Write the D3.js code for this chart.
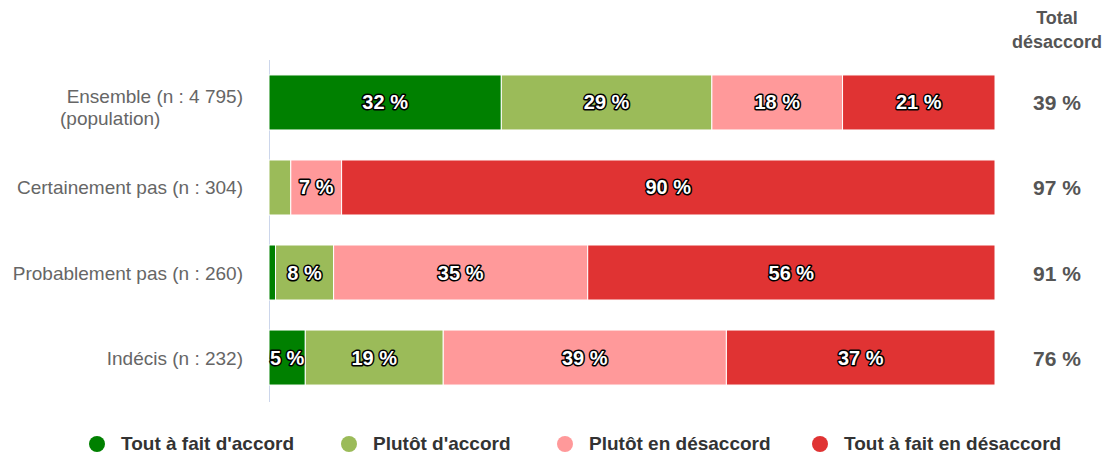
<!DOCTYPE html>
<html>
<head>
<meta charset="utf-8">
<script src="https://cdn.jsdelivr.net/npm/d3@7"></script>
<style>
  body { margin: 0; background: #fff; font-family: "Liberation Sans", Arial, sans-serif; }
</style>
</head>
<body>
<div id="chart"></div>
<script>
// data
var categories = ["Ensemble (n : 4 795)", "Certainement pas (n : 304)", "Probablement pas (n : 260)", "Indécis (n : 232)"];
var series = ["Tout à fait d'accord", "Plutôt d'accord", "Plutôt en désaccord", "Tout à fait en désaccord"];
var colors = ["#008000", "#9bbb59", "#ff999a", "#e03333"];
var toutAccord = [32, 0, 0.9, 5];
var plutotAccord = [29, 3, 8, 19];
var plutotDesaccord = [18, 7, 35, 39];
var toutDesaccord = [21, 90, 56.1, 37];
var totalDesaccord = ["39 %", "97 %", "91 %", "76 %"];

var chart_width = 1106;
var chart_height = 454;

var svg = d3.select("#chart").append("svg")
  .attr("width", chart_width)
  .attr("height", chart_height);

var x = d3.scaleLinear().domain([0, 100]).range([269, 995]);
var y = d3.scaleBand().domain(categories).range([60, 400]).paddingInner(0.353).paddingOuter(0.176);

var rows = categories.map(function(c, i) {
  return {cat: c, values: [toutAccord[i], plutotAccord[i], plutotDesaccord[i], toutDesaccord[i]]};
});

// axis line
svg.append("line")
  .attr("x1", 269.5).attr("x2", 269.5)
  .attr("y1", 60).attr("y2", 402)
  .attr("stroke", "#ccd6eb");

// bars
rows.forEach(function(r) {
  var acc = 0;
  r.values.forEach(function(v, j) {
    if (v <= 0) return;
    var x0 = x(acc), x1 = x(acc + v);
    acc += v;
    svg.append("rect")
      .attr("x", x0).attr("y", y(r.cat))
      .attr("width", x1 - x0).attr("height", y.bandwidth())
      .attr("fill", colors[j])
      .attr("stroke", "#fff").attr("stroke-width", 1);
    if (v >= 5) {
      svg.append("text")
        .attr("x", (x0 + x1) / 2)
        .attr("y", y(r.cat) + y.bandwidth() / 2 + 7)
        .attr("text-anchor", "middle")
        .attr("font-size", 20).attr("font-weight", "bold")
        .attr("fill", "#fff").attr("stroke", "#000").attr("stroke-width", 3)
        .attr("stroke-linejoin", "round").attr("paint-order", "stroke")
        .text(Math.round(v) + " %");
    }
  });
});

// category labels
categories.forEach(function(c, i) {
  svg.append("text")
    .attr("x", 243)
    .attr("y", y(c) + y.bandwidth() / 2 + (i === 0 ? 1 : 7))
    .attr("text-anchor", "end")
    .attr("font-size", 19).attr("fill", "#666")
    .text(c);
});
svg.append("text")
  .attr("x", 60).attr("y", y(categories[0]) + y.bandwidth() / 2 + 23)
  .attr("font-size", 19).attr("fill", "#666")
  .text("(population)");

// total column
svg.append("text").attr("x", 1057).attr("y", 24).attr("text-anchor", "middle")
  .attr("font-size", 18).attr("font-weight", "bold").attr("fill", "#555").text("Total");
svg.append("text").attr("x", 1057).attr("y", 48).attr("text-anchor", "middle")
  .attr("font-size", 18).attr("font-weight", "bold").attr("fill", "#555").text("désaccord");
categories.forEach(function(c, i) {
  svg.append("text")
    .attr("x", 1057)
    .attr("y", y(c) + y.bandwidth() / 2 + 8)
    .attr("text-anchor", "middle")
    .attr("font-size", 21).attr("font-weight", "bold").attr("fill", "#555")
    .text(totalDesaccord[i]);
});

// legend
var legendX = [97, 349, 565, 820];
series.forEach(function(s, i) {
  svg.append("circle").attr("cx", legendX[i]).attr("cy", 444).attr("r", 8).attr("fill", colors[i]);
  svg.append("text").attr("x", legendX[i] + 24).attr("y", 450)
    .attr("font-size", 19).attr("font-weight", "bold").attr("fill", "#333")
    .text(s);
});
</script>
</body>
</html>
